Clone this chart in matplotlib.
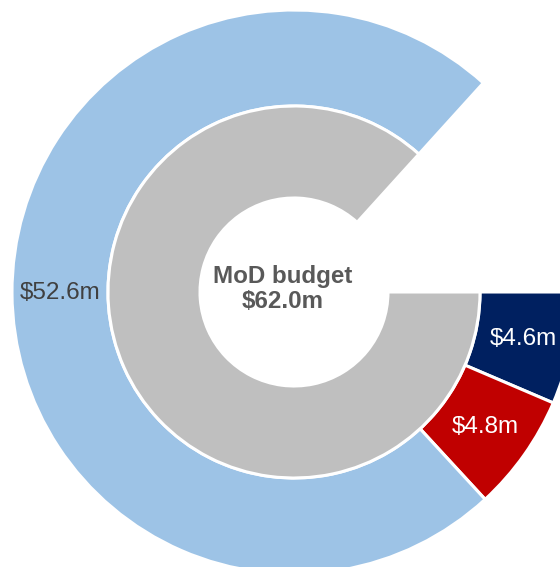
"""
nested donut: MoD budget (inner ring) split into three parts (outer ring)
"""
import numpy as np
import matplotlib.pyplot as plt

plt.rcParams['font.family'] = ['Liberation Sans', 'DejaVu Sans']

# outer ring, drawn clockwise starting at 3 o'clock
part_labels = ['$4.6m', '$4.8m', '$52.6m']
part_values = [4.6, 4.8, 52.6]
part_colors = ['#002060', '#C00000', '#9DC3E6']
part_text_colors = ['white', 'white', '#404040']

# inner ring
budget_label = 'MoD budget\n$62.0m'
budget_value = 62.0
budget_color = '#BFBFBF'

# value that a full circle stands for (the white gap is the remainder)
full_circle = 71.5


def main():
    fig = plt.figure(figsize=(5.6, 5.67), dpi=100)
    ax = fig.add_axes([0, 0, 1, 1])

    center = (294, 275)
    r_outer = 282
    r_mid = 186
    r_inner = 94

    gap = full_circle - sum(part_values)
    edge = dict(edgecolor='white', linewidth=2.2)

    outer, _ = ax.pie(part_values + [gap], colors=part_colors + ['none'],
                      radius=r_outer, center=center, startangle=0,
                      counterclock=False, frame=True,
                      wedgeprops=dict(width=r_outer - r_mid, **edge))
    outer[-1].set_visible(False)

    inner, _ = ax.pie([budget_value, full_circle - budget_value],
                      colors=[budget_color, 'none'],
                      radius=r_mid, center=center, startangle=0,
                      counterclock=False, frame=True,
                      wedgeprops=dict(width=r_mid - r_inner, **edge))
    inner[-1].set_visible(False)

    ax.set_xlim(0, 560)
    ax.set_ylim(0, 567)
    ax.set_aspect('equal')
    ax.axis('off')

    # labels in the middle of each outer wedge
    r_text = (r_outer + r_mid) / 2
    for wedge, label, color in zip(outer, part_labels, part_text_colors):
        mid = np.deg2rad((wedge.theta1 + wedge.theta2) / 2)
        x = center[0] + r_text * np.cos(mid)
        y = center[1] + r_text * np.sin(mid)
        ax.text(x, y, label, ha='center', va='center', fontsize=17.5, color=color)

    ax.text(center[0] - 11, center[1] + 3, budget_label, ha='center', va='center',
            fontsize=17.4, fontweight='bold', color='#595959', linespacing=1.12)

    fig.savefig('out.png', dpi=100)


if __name__ == '__main__':
    main()
